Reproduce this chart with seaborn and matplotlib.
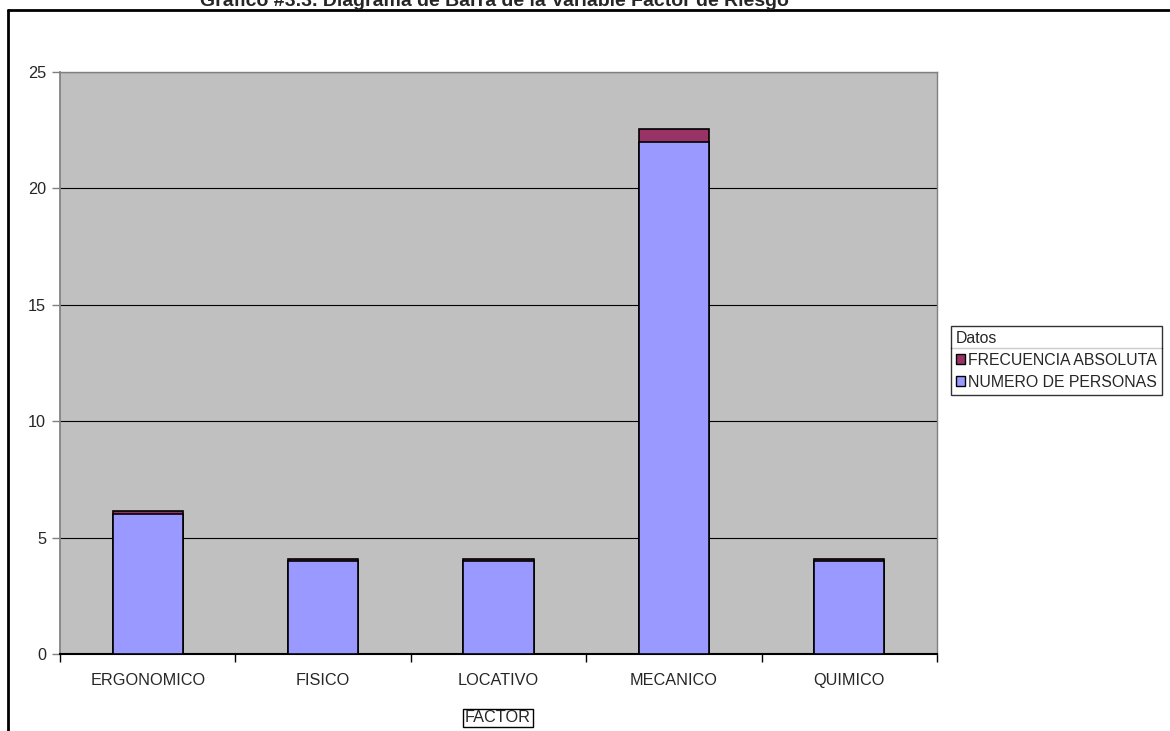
import matplotlib
matplotlib.use("Agg")
import matplotlib.pyplot as plt
import seaborn as sns
import pandas as pd
from matplotlib.lines import Line2D
from matplotlib.patches import Patch

categories = ["ERGONOMICO", "FISICO", "LOCATIVO", "MECANICO", "QUIMICO"]
numero_personas = [6, 4, 4, 22, 4]
frecuencia_absoluta = [0.15, 0.10, 0.10, 0.55, 0.10]
y_ticks = [0, 5, 10, 15, 20, 25]

sns.set_theme(style="white")
plt.rcParams['font.family'] = ['Liberation Sans', 'DejaVu Sans']

df = pd.DataFrame({
    "factor": categories,
    "personas": numero_personas,
    "total": [p + f for p, f in zip(numero_personas, frecuencia_absoluta)],
})

W, H = 1170, 731
fig = plt.figure(figsize=(W/100, H/100), dpi=100)
ax = fig.add_axes([60/W, 1-654/H, (937-60)/W, (654-72)/H])
ax.set_facecolor("#C0C0C0")

sns.barplot(data=df, x="factor", y="total", color="#993366", width=0.4,
            edgecolor="black", linewidth=1.2, saturation=1, ax=ax, zorder=3)
sns.barplot(data=df, x="factor", y="personas", color="#9999FF", width=0.4,
            edgecolor="black", linewidth=1.2, saturation=1, ax=ax, zorder=4)

fs = 11.7
ax.set_ylim(0, 25)
ax.set_xlim(-0.5, len(categories) - 0.5)
ax.set_yticks(y_ticks)
ax.set_yticklabels([str(t) for t in y_ticks], fontsize=fs)
ax.set_xticks(range(len(categories)))
ax.set_xticklabels(categories, fontsize=fs)
ax.tick_params(axis='x', which='major', length=0, pad=14)
ax.set_xticks([i - 0.5 for i in range(len(categories) + 1)], minor=True)
ax.tick_params(axis='x', which='minor', length=6, width=1, color='black', direction='out', bottom=True)
ax.tick_params(axis='y', length=6, width=1, color='#808080', direction='out', left=True, pad=4)
ax.set_xlabel("")
ax.set_ylabel("")
ax.yaxis.grid(True, color="black", linewidth=0.8, zorder=1)
ax.set_axisbelow(True)
for s in ["top", "right"]:
    ax.spines[s].set_color("#808080")
    ax.spines[s].set_linewidth(1)
ax.spines["left"].set_color("#808080")
ax.spines["bottom"].set_color("black")
ax.spines["bottom"].set_linewidth(1.5)

# legend
handles = [Patch(facecolor="#993366", edgecolor="black", label="FRECUENCIA ABSOLUTA"),
           Patch(facecolor="#9999FF", edgecolor="black", label="NUMERO DE PERSONAS")]
leg = fig.legend(handles=handles, title="Datos", loc="upper left",
                 bbox_to_anchor=(951/W, 1-326/H),
                 fontsize=11.4, title_fontsize=11.4,
                 frameon=True, fancybox=False, edgecolor="black", handlelength=0.6,
                 handleheight=0.6, handletextpad=0.2, borderpad=0.3, labelspacing=0.45,
                 borderaxespad=0)
leg._legend_box.align = "left"
leg.get_frame().set_linewidth(1)

fig.canvas.draw()
bb = leg.get_window_extent()
fig.add_artist(Line2D([bb.x0/W, bb.x1/W], [1-348/H, 1-348/H], transform=fig.transFigure,
                      color="black", linewidth=1))

# title (partly cut off at top, as in the reference)
fig.text(494/W, 1-6/H, "Grafico #3.3. Diagrama de Barra de la Variable Factor de Riesgo",
         ha="center", va="baseline", fontsize=14, fontweight="bold")

# axis title boxed
fig.text(498/W, 1-718/H, "FACTOR", ha="center", va="center", fontsize=fs,
         bbox=dict(boxstyle="square,pad=0.12", facecolor="white", edgecolor="black", linewidth=1))

# outer frame (left and top)
fig.add_artist(Line2D([8/W, 8/W], [0, 1-10/H], transform=fig.transFigure, color="black", linewidth=2))
fig.add_artist(Line2D([8/W, 1], [1-10/H, 1-10/H], transform=fig.transFigure, color="black", linewidth=2))

fig.savefig("out.png", dpi=100)
